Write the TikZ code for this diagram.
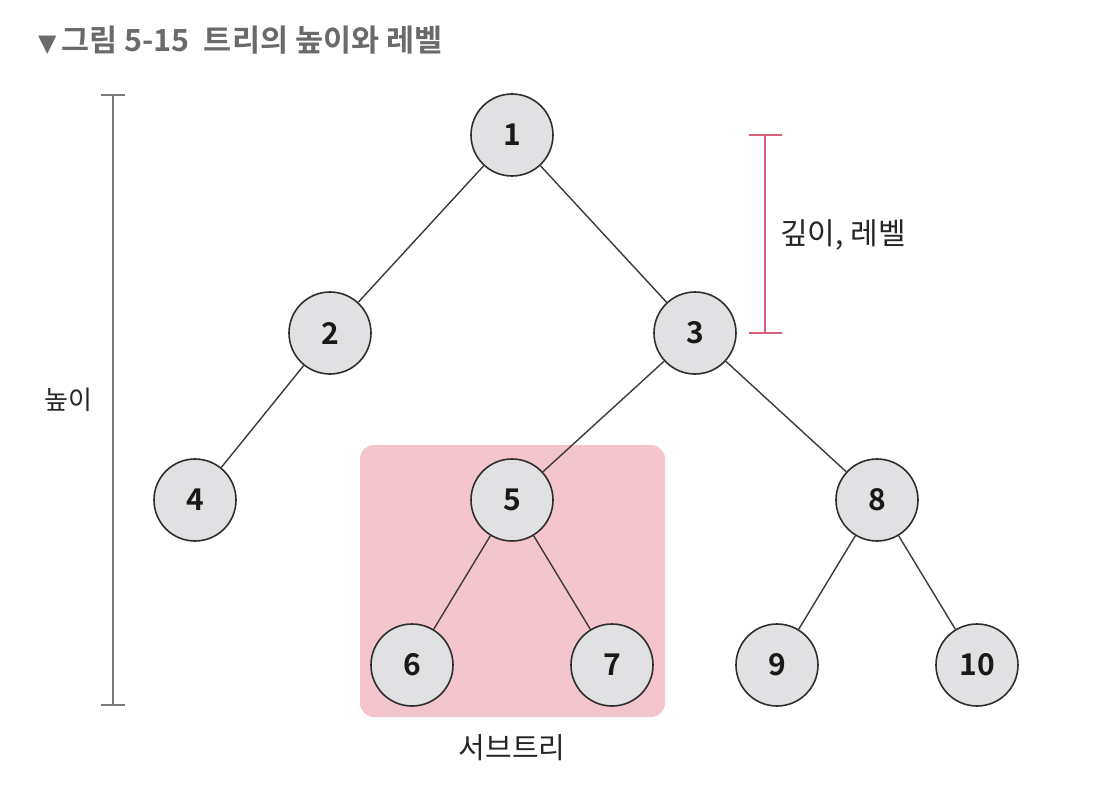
\documentclass[tikz,border=0pt]{standalone}
\usepackage{fontspec}
\setmainfont{Noto Sans CJK KR}
\newfontfamily\krfont{Noto Sans CJK KR}
\newfontfamily\krbfont{Noto Sans CJK KR Bold}
\newfontfamily\symfont{DejaVu Sans}
\definecolor{nodefill}{HTML}{E1E1E3}
\definecolor{nodeline}{HTML}{2E2E2E}
\definecolor{edgecol}{HTML}{3A3A3A}
\definecolor{subpink}{HTML}{F5C5CE}
\definecolor{depthcol}{HTML}{D8607B}
\definecolor{heightcol}{HTML}{7A7A7A}
\definecolor{titlecol}{HTML}{6A6A6A}
\tikzset{
  tnode/.style={circle, draw=nodeline, line width=1.6pt, fill=nodefill, minimum size=82pt, inner sep=0pt, font=\krbfont\fontsize{30}{30}\selectfont, text=black!90},
  edge/.style={draw=edgecol, line width=1.4pt},
  lbl/.style={font=\krfont\fontsize{28}{28}\selectfont, text=black!85, inner sep=0pt},
}
\begin{document}
\begin{tikzpicture}[x=1pt,y=-1pt]
\useasboundingbox (0,0) rectangle (1114,790);
% title
\node[anchor=west, inner sep=0pt, text=titlecol, font=\krbfont\fontsize{30.5}{30.5}\selectfont] (title) at (38,40) {{\symfont\fontsize{24}{24}\selectfont ▼}\hspace{5pt}그림 5-15\hspace{14pt}트리의 높이와 레벨};
% subtree box
\node[draw=none, fill=subpink, rounded corners=14pt, minimum width=305pt, minimum height=272pt, inner sep=0pt] (sub) at (512.5,581) {};
\node[lbl, font=\krfont\fontsize{29}{29}\selectfont] (sublbl) at (512,748) {서브트리};
% nodes
\node[tnode] (n1) at (512,135) {1};
\node[tnode] (n2) at (330,333) {2};
\node[tnode] (n3) at (695,333) {3};
\node[tnode] (n4) at (195,500) {4};
\node[tnode] (n5) at (512,500) {5};
\node[tnode] (n8) at (877,500) {8};
\node[tnode] (n6) at (412,665) {6};
\node[tnode] (n7) at (612,665) {7};
\node[tnode] (n9) at (777,665) {9};
\node[tnode] (n10) at (977,665) {10};
% edges
\draw[edge] (n1) -- (n2);
\draw[edge] (n1) -- (n3);
\draw[edge] (n2) -- (n4);
\draw[edge] (n3) -- (n5);
\draw[edge] (n3) -- (n8);
\draw[edge] (n5) -- (n6);
\draw[edge] (n5) -- (n7);
\draw[edge] (n8) -- (n9);
\draw[edge] (n8) -- (n10);
% height bar
\coordinate (ht) at (113,95);
\coordinate (hb) at (113,705);
\draw[heightcol, line width=1.3pt] (ht) -- (hb);
\draw[heightcol, line width=1.3pt] ([xshift=-12pt]ht) -- ([xshift=12pt]ht);
\draw[heightcol, line width=1.3pt] ([xshift=-12pt]hb) -- ([xshift=12pt]hb);
\node[lbl, font=\krfont\fontsize{26}{26}\selectfont] (hl) at (68,400) {높이};
% depth bar
\coordinate (dt) at (765,135);
\coordinate (db) at (765,333);
\draw[depthcol, line width=1.3pt] (dt) -- (db);
\draw[depthcol, line width=1.3pt] ([xshift=-16pt]dt) -- ([xshift=17pt]dt);
\draw[depthcol, line width=1.3pt] ([xshift=-16pt]db) -- ([xshift=17pt]db);
\node[lbl, anchor=west, font=\krfont\fontsize{30}{30}\selectfont] (dl) at (780,235) {깊이, 레벨};
\end{tikzpicture}
\end{document}
